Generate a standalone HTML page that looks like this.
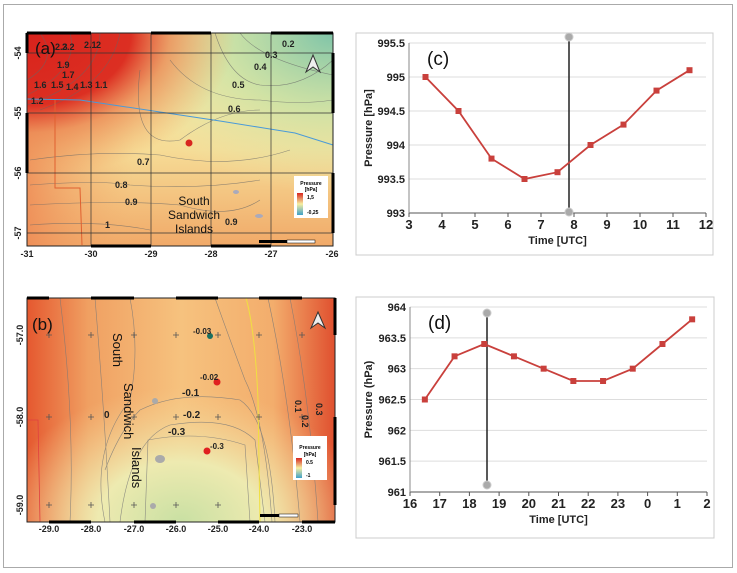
<!DOCTYPE html>
<html><head><meta charset="utf-8"><style>
body{margin:0;background:#fff;width:737px;height:573px;overflow:hidden;font-family:"Liberation Sans",sans-serif}
svg{position:absolute;left:0;top:0}
</style></head><body>
<svg width="737" height="573" viewBox="0 0 737 573">
<defs>
<linearGradient id="aBase" x1="0" y1="0" x2="0" y2="1"><stop offset="0" stop-color="#f3eca8"/><stop offset="0.55" stop-color="#f6dc96"/><stop offset="1" stop-color="#f1a968"/></linearGradient>
<radialGradient id="aRed" cx="0" cy="0" r="0.85"><stop offset="0" stop-color="#d8221c"/><stop offset="0.4" stop-color="#dc2f22"/><stop offset="0.55" stop-color="#ec8a55" stop-opacity="0.8"/><stop offset="0.8" stop-color="#f0a060" stop-opacity="0"/></radialGradient>
<radialGradient id="aGreen" cx="1" cy="0" r="0.75"><stop offset="0" stop-color="#7fc4a8"/><stop offset="0.5" stop-color="#c8e2a6" stop-opacity="0.8"/><stop offset="1" stop-color="#e8eeb0" stop-opacity="0"/></radialGradient>
<linearGradient id="aLeft" x1="0" y1="0" x2="1" y2="0"><stop offset="0" stop-color="#ee8a55" stop-opacity="0.85"/><stop offset="0.35" stop-color="#f2b070" stop-opacity="0"/></linearGradient>
<linearGradient id="bBase" x1="0" y1="0" x2="1" y2="0"><stop offset="0" stop-color="#e5582f"/><stop offset="0.2" stop-color="#f0a062"/><stop offset="0.5" stop-color="#f6c27e"/><stop offset="0.8" stop-color="#f3ad6c"/><stop offset="1" stop-color="#e0502f"/></linearGradient>
<radialGradient id="bGreen" cx="0.5" cy="1" r="0.6"><stop offset="0" stop-color="#c9e0a3"/><stop offset="0.45" stop-color="#eeeab0"/><stop offset="1" stop-color="#f6d090" stop-opacity="0"/></radialGradient>
</defs>
<rect x="3.5" y="4.5" width="729" height="563" fill="none" stroke="#aaa"/>

<g>
<rect x="27" y="33" width="306" height="213" fill="url(#aBase)"/>
<rect x="27" y="33" width="306" height="213" fill="url(#aLeft)"/>
<rect x="27" y="33" width="306" height="213" fill="url(#aGreen)"/>
<rect x="27" y="33" width="306" height="213" fill="url(#aRed)"/>
<g fill="none" stroke="#666" stroke-width="0.6" opacity="0.7">
<path d="M40 33 Q60 60 27 80"/><path d="M70 33 Q80 70 27 95"/><path d="M100 33 Q100 80 27 105"/><path d="M120 33 Q110 85 40 110"/>
<path d="M215 33 Q230 80 260 85 Q300 90 333 60"/><path d="M240 33 Q260 60 333 75"/><path d="M170 60 Q200 100 260 100 Q300 105 333 100"/>
<path d="M140 70 Q130 150 180 140 Q220 110 260 110"/><path d="M30 160 Q100 150 160 155 Q230 170 290 150"/>
<path d="M30 185 Q100 180 130 185 Q200 190 260 180"/><path d="M30 205 Q120 200 180 205 Q230 220 260 200"/><path d="M30 225 Q100 220 150 230"/>
</g>
<path d="M27 99 L80 100 L160 112 L220 121 L295 133 L333 145" fill="none" stroke="#4a9ad8" stroke-width="1"/>
<path d="M55 100 L55 188 L80 188 L82 245" fill="none" stroke="#e06030" stroke-width="1"/>
<g stroke="#333" stroke-width="0.7" fill="none">
<line x1="91" y1="33" x2="91" y2="246"/><line x1="151" y1="33" x2="151" y2="246"/><line x1="211" y1="33" x2="211" y2="246"/><line x1="271" y1="33" x2="271" y2="246"/>
<line x1="27" y1="53" x2="333" y2="53"/><line x1="27" y1="113" x2="333" y2="113"/><line x1="27" y1="173" x2="333" y2="173"/><line x1="27" y1="233" x2="333" y2="233"/>
</g>
<rect x="27" y="33" width="306" height="213" fill="none" stroke="#222" stroke-width="1"/>
<g stroke="#000" stroke-width="3"><line x1="27" y1="33" x2="91" y2="33"/><line x1="151" y1="33" x2="211" y2="33"/><line x1="271" y1="33" x2="333" y2="33"/><line x1="91" y1="246" x2="151" y2="246"/><line x1="211" y1="246" x2="271" y2="246"/><line x1="27" y1="33" x2="27" y2="53"/><line x1="27" y1="113" x2="27" y2="173"/><line x1="333" y1="53" x2="333" y2="113"/><line x1="333" y1="173" x2="333" y2="233"/></g>
<circle cx="189" cy="143" r="3.5" fill="#d8261f"/>
<g font-size="9" font-weight="bold" fill="#222">
<text x="55" y="50">2.3</text><text x="62" y="50">2.2</text><text x="84" y="48">2.1</text><text x="96" y="48">2</text>
<text x="57" y="68">1.9</text><text x="62" y="78">1.7</text><text x="34" y="88">1.6</text><text x="51" y="88">1.5</text><text x="66" y="90">1.4</text><text x="80" y="88">1.3</text><text x="95" y="88">1.1</text><text x="31" y="104">1.2</text>
<text x="282" y="47">0.2</text><text x="265" y="58">0.3</text><text x="254" y="70">0.4</text><text x="232" y="88">0.5</text><text x="228" y="112">0.6</text>
<text x="137" y="165">0.7</text><text x="115" y="188">0.8</text><text x="125" y="205">0.9</text><text x="105" y="228">1</text><text x="225" y="225">0.9</text>
</g>
<text x="35" y="54" font-size="17" fill="#111">(a)</text>
<path d="M320 72 L313 55 L306 72 L313 67 Z" fill="#eee" stroke="#333"/>
<text x="194" y="205" font-size="12" text-anchor="middle" fill="#111">South</text><text x="194" y="219" font-size="12" text-anchor="middle" fill="#111">Sandwich</text><text x="194" y="233" font-size="12" text-anchor="middle" fill="#111">Islands</text>
<ellipse cx="236" cy="192" rx="3" ry="2" fill="#aab"/><ellipse cx="259" cy="216" rx="4" ry="2" fill="#aab"/>
<rect x="294" y="176" width="34" height="42" fill="#fff"/>
<text x="311" y="185" font-size="5" font-weight="bold" text-anchor="middle">Pressure</text><text x="311" y="191" font-size="5" font-weight="bold" text-anchor="middle">[hPa]</text>
<linearGradient id="lgA" x1="0" y1="0" x2="0" y2="1"><stop offset="0" stop-color="#d8261f"/><stop offset="0.5" stop-color="#f6eea0"/><stop offset="1" stop-color="#3ea0c8"/></linearGradient>
<rect x="297" y="193" width="6" height="22" fill="url(#lgA)"/>
<text x="307" y="199" font-size="5" font-weight="bold">1,5</text><text x="307" y="214" font-size="5" font-weight="bold">-0,25</text>
<rect x="259" y="240" width="28" height="3" fill="#000"/><rect x="287" y="240" width="28" height="3" fill="#fff" stroke="#000" stroke-width="0.5"/>
<g font-size="9" font-weight="bold" fill="#222" text-anchor="middle">
<text x="27" y="257">-31</text><text x="91" y="257">-30</text><text x="151" y="257">-29</text><text x="211" y="257">-28</text><text x="271" y="257">-27</text><text x="332" y="257">-26</text>
<text transform="translate(21,53) rotate(-90)">-54</text><text transform="translate(21,113) rotate(-90)">-55</text><text transform="translate(21,173) rotate(-90)">-56</text><text transform="translate(21,233) rotate(-90)">-57</text>
</g>
</g>

<g>
<rect x="27" y="298" width="308" height="224" fill="url(#bBase)"/>
<rect x="27" y="298" width="308" height="224" fill="url(#bGreen)"/>
<g fill="none" stroke="#777" stroke-width="0.6" opacity="0.8">
<path d="M95 298 Q105 420 110 522"/><path d="M60 298 Q75 420 70 522"/><path d="M130 298 Q140 350 130 400 Q90 450 105 522"/>
<path d="M105 470 Q120 430 140 410 Q180 390 240 400 Q270 420 275 522"/><path d="M120 522 Q130 440 170 425 Q230 415 255 440 L265 522"/><path d="M145 522 L148 440 Q200 430 245 445 L250 522"/>
<path d="M215 298 Q230 340 245 380 Q265 420 272 522"/><path d="M268 298 Q290 400 300 522"/><path d="M290 298 Q310 400 318 522"/>
</g>
<path d="M246 298 Q255 330 258 400 L260 522" fill="none" stroke="#f0e040" stroke-width="1"/>
<path d="M27 420 L38 420 L40 522" fill="none" stroke="#e04040" stroke-width="0.8"/>
<g stroke="#555" stroke-width="0.8">
<path d="M46 335h6M49 332v6M88 335h6M91 332v6M131 335h6M134 332v6M173 335h6M176 332v6M215 335h6M218 332v6M256 335h6M259 332v6M299 335h6M302 332v6"/>
<path d="M46 417h6M49 414v6M88 417h6M91 414v6M131 417h6M134 414v6M173 417h6M176 414v6M215 417h6M218 414v6M256 417h6M259 414v6M299 417h6M302 414v6"/>
<path d="M46 505h6M49 502v6M88 505h6M91 502v6M131 505h6M134 502v6M173 505h6M176 502v6M215 505h6M218 502v6"/>
</g>
<rect x="27" y="298" width="308" height="224" fill="none" stroke="#222"/>
<g stroke="#000" stroke-width="3"><line x1="27" y1="298" x2="49" y2="298"/><line x1="91" y1="298" x2="134" y2="298"/><line x1="176" y1="298" x2="218" y2="298"/><line x1="259" y1="298" x2="302" y2="298"/><line x1="49" y1="522" x2="91" y2="522"/><line x1="134" y1="522" x2="176" y2="522"/><line x1="218" y1="522" x2="259" y2="522"/><line x1="302" y1="522" x2="335" y2="522"/><line x1="335" y1="298" x2="335" y2="335"/><line x1="335" y1="417" x2="335" y2="505"/></g>
<text x="32" y="330" font-size="17" fill="#111">(b)</text>
<path d="M325 328 L318 312 L311 328 L318 323 Z" fill="#eee" stroke="#333"/>
<circle cx="210" cy="336" r="3" fill="#1a7060"/><circle cx="217" cy="382" r="3.5" fill="#e02020"/><circle cx="207" cy="451" r="3.5" fill="#e02020"/>
<g font-size="8" font-weight="bold" fill="#222">
<text x="193" y="334">-0.03</text><text x="200" y="380">-0.02</text><text x="210" y="449">-0.3</text>
<text x="182" y="396" font-size="10">-0.1</text><text x="183" y="418" font-size="10">-0.2</text><text x="168" y="435" font-size="10">-0.3</text>
<text x="104" y="418" font-size="10">0</text>
<text transform="translate(295,400) rotate(90)" font-size="9">0.1</text><text transform="translate(302,415) rotate(90)" font-size="9">0.2</text><text transform="translate(316,403) rotate(90)" font-size="9">0.3</text>
</g>
<g font-size="13" fill="#111">
<text transform="translate(113,333) rotate(90)">South</text><text transform="translate(124,383) rotate(90)">Sandwich</text><text transform="translate(132,447) rotate(90)">Islands</text>
</g>
<ellipse cx="160" cy="459" rx="5" ry="4" fill="#aaa"/><ellipse cx="155" cy="401" rx="3" ry="3" fill="#aaa"/><ellipse cx="153" cy="506" rx="3" ry="3" fill="#aaa"/>
<rect x="293" y="436" width="34" height="44" fill="#fff"/>
<text x="310" y="449" font-size="5" font-weight="bold" text-anchor="middle">Pressure</text><text x="310" y="456" font-size="5" font-weight="bold" text-anchor="middle">[hPa]</text>
<linearGradient id="lgB" x1="0" y1="0" x2="0" y2="1"><stop offset="0" stop-color="#d8261f"/><stop offset="0.5" stop-color="#f6eea0"/><stop offset="1" stop-color="#3ea0c8"/></linearGradient>
<rect x="296" y="458" width="6" height="20" fill="url(#lgB)"/>
<text x="306" y="464" font-size="5" font-weight="bold">0.5</text><text x="306" y="477" font-size="5" font-weight="bold">-1</text>
<rect x="260" y="514" width="19" height="3" fill="#000"/><rect x="279" y="514" width="19" height="3" fill="#fff" stroke="#000" stroke-width="0.5"/>
<g font-size="9" font-weight="bold" fill="#222" text-anchor="middle">
<text x="49" y="532">-29.0</text><text x="91" y="532">-28.0</text><text x="134" y="532">-27.0</text><text x="176" y="532">-26.0</text><text x="218" y="532">-25.0</text><text x="259" y="532">-24.0</text><text x="302" y="532">-23.0</text>
<text transform="translate(23,335) rotate(-90)">-57.0</text><text transform="translate(23,417) rotate(-90)">-58.0</text><text transform="translate(23,505) rotate(-90)">-59.0</text>
</g>
</g>
<g id="charts"></g>
</svg>
<script>
const cTimes=[3.5,4.5,5.5,6.5,7.5,8.5,9.5,10.5,11.5];
const cValues=[995,994.5,993.8,993.5,993.6,994,994.3,994.8,995.1];
const cXTicks=[3,4,5,6,7,8,9,10,11,12];
const cYTicks=[993,993.5,994,994.5,995,995.5];
const dTimes=[16.5,17.5,18.5,19.5,20.5,21.5,22.5,23.5,24.5,25.5];
const dValues=[962.5,963.2,963.4,963.2,963,962.8,962.8,963,963.4,963.8];
const dXTicks=[16,17,18,19,20,21,22,23,24,25,26];
const dXLabels=["16","17","18","19","20","21","22","23","0","1","2"];
const dYTicks=[961,961.5,962,962.5,963,963.5,964];
const NS="http://www.w3.org/2000/svg";
const root=document.getElementById('charts');
function mk(tag,attrs,parent){const e=document.createElementNS(NS,tag);for(const k in attrs)e.setAttribute(k,attrs[k]);parent.appendChild(e);return e;}
function chart(o){
  const g=mk('g',{},root);
  
  
  mk('rect',{x:o.fx,y:o.fy,width:o.fw,height:o.fh,fill:'#fff',stroke:'#ccc'},g);
  const xs=v=>o.x0+(v-o.xmin)/(o.xmax-o.xmin)*(o.x1-o.x0);
  const ys=v=>o.y0-(v-o.ymin)/(o.ymax-o.ymin)*(o.y0-o.y1);
  o.yt.forEach(v=>{
    const l=mk('line',{x1:o.x0,x2:o.x1,y1:ys(v),y2:ys(v),stroke:v===o.ymin?'#555':'#ddd'},g);
    
    
    const t=mk('text',{x:o.x0-4,y:ys(v)+4,'font-size':11,'font-weight':'bold','text-anchor':'end',fill:'#222'},g);
    t.textContent=String(v);
    
    
  });
  mk('line',{x1:o.x0,x2:o.x0,y1:o.y1,y2:o.y0,stroke:'#888'},g);
  o.xt.forEach((v,i)=>{
    mk('line',{x1:xs(v),x2:xs(v),y1:o.y0,y2:o.y0+4,stroke:'#555'},g);
    const t=mk('text',{x:xs(v),y:o.y0+16,'font-size':13,'font-weight':'bold','text-anchor':'middle',fill:'#222'},g);
    t.textContent=o.xl?o.xl[i]:String(v);
    
    
  });
  const vx=o.vline;
  const vl=mk('line',{x1:vx,x2:vx,y1:o.vy1,y2:o.vy2,stroke:'#222','stroke-width':1.5},g);
  
  
  [o.vy1,o.vy2].forEach(y=>{const c=mk('circle',{cx:vx,cy:y,r:4,fill:'#aaa',stroke:'#ccc'},g);
    
    });
  const pts=o.tx.map((t,i)=>xs(t)+','+ys(o.vals[i])).join(' ');
  const pl=mk('polyline',{points:pts,fill:'none',stroke:'#c9403c','stroke-width':1.8},g);
  
  
  o.tx.forEach((t,i)=>{const r=mk('rect',{x:xs(t)-3,y:ys(o.vals[i])-3,width:6,height:6,fill:'#c9403c'},g);
    
    });
  const xt=mk('text',{x:(o.x0+o.x1)/2,y:o.y0+31,'font-size':11,'font-weight':'bold','text-anchor':'middle',fill:'#222'},g);
  xt.textContent='Time [UTC]';
  
  
  const yt=mk('text',{transform:`translate(${o.fx+16},${(o.y0+o.y1)/2}) rotate(-90)`,'font-size':11,'font-weight':'bold','text-anchor':'middle',fill:'#222'},g);
  yt.textContent=o.ytitle;
  
  
  const pl2=mk('text',{x:o.x0+18,y:o.y1+22,'font-size':19,fill:'#111'},g);
  pl2.textContent=o.label;
  
  
}
chart({name:'chart-c',fx:356,fy:33,fw:357,fh:222,x0:409,x1:706,y0:213,y1:43,xmin:3,xmax:12,ymin:993,ymax:995.5,xt:cXTicks,yt:cYTicks,tx:cTimes,vals:cValues,vline:569,vy1:37,vy2:212,ytitle:'Pressure [hPa]',label:'(c)'});
chart({name:'chart-d',fx:356,fy:297,fw:358,fh:241,x0:410,x1:707,y0:492,y1:307,xmin:16,xmax:26,ymin:961,ymax:964,xt:dXTicks,xl:dXLabels,yt:dYTicks,tx:dTimes,vals:dValues,vline:487,vy1:313,vy2:485,ytitle:'Pressure (hPa)',label:'(d)'});
</script>
</body></html>
